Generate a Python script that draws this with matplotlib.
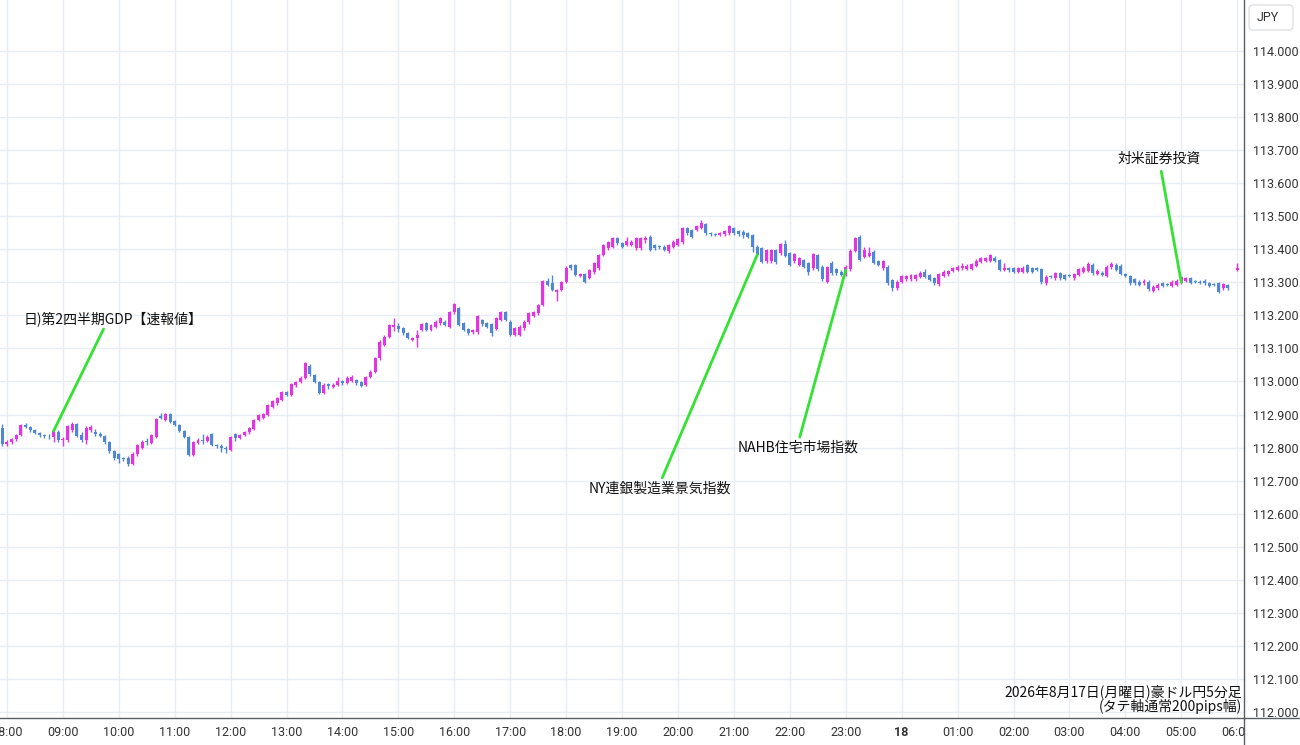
import numpy as np
import matplotlib
matplotlib.use('Agg')
import matplotlib.pyplot as plt
from matplotlib.patches import FancyBboxPatch
from matplotlib.lines import Line2D
from matplotlib.transforms import IdentityTransform, Bbox, TransformedBbox

nan = float('nan')

# ---------------- data: AUD/JPY 5-minute candles (07:55 -> 06:00) ----------------
opens = [
    112.860, 112.810, 112.818, 112.826, 112.838, 112.868, 112.862, 112.852, 112.844, 112.838,
    112.836, 112.832, 112.848, 112.822, 112.822, 112.852, 112.870, 112.838, 112.822, 112.852,
    112.848, 112.842, 112.834, 112.816, 112.790, 112.780, 112.768, 112.770, 112.750, 112.780,
    112.800, 112.820, 112.815, 112.833, 112.895, 112.883, 112.903, 112.880, 112.868, 112.850,
    112.833, 112.778, 112.815, 112.823, 112.820, 112.840, 112.808, 112.805, 112.800, 112.793,
    112.840, 112.830, 112.838, 112.846, 112.856, 112.883, 112.890, 112.900, 112.924, 112.934,
    112.944, 112.967, 112.960, 112.988, 112.998, 113.012, 113.048, 113.020, 112.997, 112.966,
    112.992, 112.984, 112.990, 113.000, 112.995, 113.002, 113.005, 112.997, 112.989, 113.015,
    113.030, 113.070, 113.110, 113.136, 113.165, 113.168, 113.161, 113.146, 113.126, 113.131,
    113.156, 113.176, 113.156, 113.166, 113.176, 113.181, 113.166, 113.209, 113.221, 113.176,
    113.159, 113.149, 113.149, 113.186, 113.176, 113.173, 113.159, 113.186, 113.209, 113.181,
    113.141, 113.141, 113.161, 113.179, 113.199, 113.206, 113.231, 113.304, 113.297, 113.272,
    113.277, 113.302, 113.352, 113.352, 113.319, 113.324, 113.314, 113.330, 113.342, 113.383,
    113.403, 113.408, 113.433, 113.418, 113.413, 113.413, 113.403, 113.403, 113.428, 113.438,
    113.413, 113.409, 113.408, 113.396, 113.408, 113.413, 113.421, 113.464, 113.458, 113.458,
    113.464, 113.476, 113.448, 113.445, 113.443, 113.445, 113.448, 113.464, 113.455, 113.453,
    113.448, 113.443, 113.408, 113.403, 113.363, 113.363, 113.398, 113.388, 113.416, 113.388,
    113.363, 113.353, 113.366, 113.358, 113.342, 113.383, 113.347, 113.302, 113.358, 113.339,
    113.332, 113.322, 113.339, 113.396, 113.438, 113.378, 113.380, 113.393, 113.363, 113.342,
    113.347, 113.307, 113.282, 113.302, 113.309, 113.309, 113.309, 113.317, 113.332, 113.322,
    113.312, 113.294, 113.320, 113.324, 113.334, 113.338, 113.342, 113.340, 113.340, 113.350,
    113.361, 113.365, 113.365, 113.375, 113.368, 113.337, 113.342, 113.342, 113.332, 113.332,
    113.352, 113.342, 113.342, 113.340, 113.297, 113.318, 113.312, 113.327, 113.322, 113.321,
    113.312, 113.322, 113.332, 113.335, 113.353, 113.325, 113.329, 113.320, 113.345, 113.353,
    113.350, 113.325, 113.319, 113.309, 113.302, 113.297, 113.302, 113.275, 113.282, 113.297,
    113.293, 113.289, 113.292, 113.299, 113.305, 113.312, 113.303, 113.302, 113.305, 113.297,
    113.293, 113.297, 113.282, 113.292, nan, 113.337,
]
highs = [
    112.870, 112.822, 112.830, 112.842, 112.872, 112.875, 112.866, 112.856, 112.848, 112.842,
    112.840, 112.856, 112.852, 112.832, 112.868, 112.876, 112.874, 112.848, 112.866, 112.868,
    112.855, 112.848, 112.838, 112.820, 112.794, 112.784, 112.772, 112.774, 112.786, 112.812,
    112.822, 112.828, 112.842, 112.890, 112.905, 112.906, 112.906, 112.884, 112.872, 112.854,
    112.836, 112.820, 112.828, 112.842, 112.838, 112.844, 112.812, 112.810, 112.804, 112.836,
    112.843, 112.842, 112.850, 112.862, 112.886, 112.902, 112.906, 112.932, 112.944, 112.952,
    112.970, 112.972, 112.996, 113.002, 113.016, 113.058, 113.052, 113.024, 113.000, 112.994,
    112.996, 112.994, 113.015, 113.004, 113.016, 113.020, 113.008, 113.000, 113.018, 113.034,
    113.074, 113.124, 113.140, 113.175, 113.191, 113.176, 113.165, 113.150, 113.135, 113.156,
    113.176, 113.180, 113.175, 113.185, 113.194, 113.185, 113.212, 113.236, 113.225, 113.180,
    113.162, 113.160, 113.202, 113.190, 113.180, 113.177, 113.195, 113.212, 113.213, 113.185,
    113.165, 113.170, 113.185, 113.210, 113.213, 113.235, 113.308, 113.312, 113.322, 113.280,
    113.304, 113.348, 113.356, 113.356, 113.328, 113.328, 113.341, 113.362, 113.387, 113.417,
    113.425, 113.437, 113.438, 113.422, 113.438, 113.427, 113.437, 113.437, 113.441, 113.442,
    113.417, 113.413, 113.412, 113.417, 113.427, 113.435, 113.468, 113.468, 113.462, 113.473,
    113.489, 113.480, 113.453, 113.449, 113.452, 113.459, 113.473, 113.468, 113.459, 113.457,
    113.452, 113.447, 113.412, 113.407, 113.402, 113.402, 113.402, 113.420, 113.428, 113.392,
    113.390, 113.377, 113.370, 113.362, 113.390, 113.387, 113.351, 113.349, 113.363, 113.343,
    113.336, 113.351, 113.400, 113.437, 113.442, 113.408, 113.408, 113.397, 113.367, 113.367,
    113.351, 113.311, 113.306, 113.323, 113.323, 113.326, 113.326, 113.333, 113.340, 113.326,
    113.316, 113.328, 113.336, 113.338, 113.346, 113.351, 113.358, 113.354, 113.359, 113.369,
    113.377, 113.377, 113.387, 113.379, 113.372, 113.358, 113.346, 113.346, 113.346, 113.348,
    113.356, 113.346, 113.346, 113.344, 113.321, 113.322, 113.331, 113.331, 113.326, 113.325,
    113.328, 113.344, 113.348, 113.360, 113.357, 113.339, 113.333, 113.351, 113.360, 113.357,
    113.354, 113.329, 113.323, 113.313, 113.306, 113.309, 113.306, 113.291, 113.297, 113.301,
    113.297, 113.306, 113.309, 113.319, 113.316, 113.316, 113.307, 113.306, 113.309, 113.301,
    113.297, 113.301, 113.299, 113.296, nan, 113.358,
]
lows = [
    112.805, 112.805, 112.812, 112.820, 112.835, 112.858, 112.848, 112.840, 112.832, 112.828,
    112.826, 112.818, 112.818, 112.805, 112.818, 112.848, 112.832, 112.818, 112.812, 112.848,
    112.836, 112.832, 112.812, 112.785, 112.762, 112.752, 112.760, 112.745, 112.746, 112.776,
    112.796, 112.808, 112.812, 112.830, 112.885, 112.880, 112.875, 112.864, 112.846, 112.829,
    112.775, 112.775, 112.810, 112.812, 112.816, 112.804, 112.800, 112.788, 112.783, 112.790,
    112.820, 112.826, 112.834, 112.842, 112.852, 112.880, 112.886, 112.896, 112.920, 112.930,
    112.940, 112.956, 112.956, 112.984, 112.994, 113.008, 113.018, 112.994, 112.962, 112.962,
    112.978, 112.980, 112.986, 112.990, 112.992, 112.998, 112.990, 112.982, 112.985, 113.012,
    113.026, 113.066, 113.106, 113.132, 113.153, 113.151, 113.142, 113.127, 113.122, 113.105,
    113.152, 113.152, 113.152, 113.162, 113.172, 113.167, 113.162, 113.205, 113.167, 113.152,
    113.142, 113.145, 113.145, 113.169, 113.162, 113.138, 113.155, 113.182, 113.182, 113.137,
    113.137, 113.137, 113.157, 113.175, 113.195, 113.202, 113.227, 113.288, 113.273, 113.244,
    113.273, 113.298, 113.338, 113.318, 113.315, 113.298, 113.310, 113.326, 113.338, 113.379,
    113.399, 113.404, 113.414, 113.404, 113.409, 113.409, 113.399, 113.399, 113.418, 113.394,
    113.399, 113.400, 113.394, 113.388, 113.404, 113.409, 113.417, 113.444, 113.434, 113.454,
    113.460, 113.444, 113.441, 113.439, 113.439, 113.441, 113.444, 113.444, 113.441, 113.433,
    113.433, 113.391, 113.379, 113.357, 113.359, 113.359, 113.356, 113.384, 113.376, 113.349,
    113.359, 113.349, 113.343, 113.322, 113.338, 113.335, 113.305, 113.298, 113.323, 113.323,
    113.318, 113.318, 113.335, 113.392, 113.364, 113.374, 113.378, 113.354, 113.349, 113.338,
    113.293, 113.274, 113.278, 113.298, 113.305, 113.305, 113.305, 113.313, 113.313, 113.303,
    113.293, 113.290, 113.316, 113.320, 113.330, 113.334, 113.338, 113.336, 113.336, 113.346,
    113.357, 113.361, 113.361, 113.361, 113.333, 113.335, 113.332, 113.328, 113.328, 113.328,
    113.328, 113.328, 113.334, 113.296, 113.292, 113.312, 113.308, 113.308, 113.306, 113.315,
    113.308, 113.318, 113.328, 113.331, 113.323, 113.321, 113.318, 113.316, 113.341, 113.333,
    113.321, 113.316, 113.293, 113.293, 113.288, 113.293, 113.275, 113.271, 113.278, 113.285,
    113.288, 113.285, 113.288, 113.295, 113.301, 113.295, 113.298, 113.295, 113.293, 113.285,
    113.288, 113.268, 113.278, 113.278, nan, 113.333,
]
closes = [
    112.810, 112.818, 112.826, 112.838, 112.868, 112.862, 112.852, 112.844, 112.838, 112.836,
    112.834, 112.850, 112.822, 112.826, 112.864, 112.870, 112.836, 112.824, 112.860, 112.862,
    112.842, 112.836, 112.818, 112.790, 112.770, 112.764, 112.766, 112.750, 112.782, 112.808,
    112.816, 112.816, 112.838, 112.888, 112.890, 112.903, 112.878, 112.868, 112.850, 112.833,
    112.778, 112.816, 112.823, 112.820, 112.833, 112.808, 112.805, 112.800, 112.797, 112.833,
    112.830, 112.838, 112.846, 112.858, 112.883, 112.898, 112.903, 112.929, 112.940, 112.949,
    112.967, 112.960, 112.992, 112.998, 113.012, 113.055, 113.022, 112.997, 112.964, 112.990,
    112.985, 112.990, 113.000, 112.995, 113.012, 113.015, 112.995, 112.987, 113.015, 113.030,
    113.070, 113.120, 113.136, 113.171, 113.170, 113.160, 113.146, 113.131, 113.131, 113.140,
    113.173, 113.156, 113.171, 113.181, 113.191, 113.171, 113.209, 113.233, 113.171, 113.156,
    113.146, 113.156, 113.199, 113.173, 113.166, 113.146, 113.191, 113.209, 113.186, 113.141,
    113.161, 113.166, 113.181, 113.206, 113.209, 113.231, 113.304, 113.292, 113.277, 113.277,
    113.300, 113.344, 113.342, 113.322, 113.324, 113.302, 113.337, 113.358, 113.383, 113.413,
    113.421, 113.433, 113.418, 113.408, 113.425, 113.423, 113.433, 113.433, 113.433, 113.398,
    113.403, 113.408, 113.398, 113.413, 113.423, 113.431, 113.464, 113.448, 113.438, 113.469,
    113.479, 113.448, 113.446, 113.443, 113.448, 113.455, 113.469, 113.448, 113.445, 113.443,
    113.438, 113.408, 113.383, 113.361, 113.398, 113.398, 113.360, 113.416, 113.380, 113.353,
    113.386, 113.373, 113.347, 113.332, 113.386, 113.339, 113.309, 113.345, 113.327, 113.327,
    113.322, 113.347, 113.396, 113.433, 113.368, 113.398, 113.388, 113.358, 113.353, 113.363,
    113.297, 113.282, 113.302, 113.319, 113.319, 113.322, 113.322, 113.329, 113.317, 113.307,
    113.297, 113.324, 113.332, 113.334, 113.342, 113.347, 113.350, 113.350, 113.355, 113.365,
    113.373, 113.373, 113.383, 113.365, 113.337, 113.343, 113.336, 113.332, 113.342, 113.344,
    113.332, 113.332, 113.338, 113.300, 113.317, 113.316, 113.327, 113.312, 113.310, 113.319,
    113.324, 113.340, 113.344, 113.355, 113.327, 113.335, 113.322, 113.347, 113.356, 113.337,
    113.325, 113.320, 113.297, 113.297, 113.292, 113.305, 113.279, 113.287, 113.292, 113.289,
    113.292, 113.302, 113.305, 113.315, 113.312, 113.299, 113.302, 113.299, 113.297, 113.289,
    113.292, 113.272, 113.295, 113.282, nan, 113.342,
]

# hour ticks: candle index of each full hour (08:00 is candle 1)
hour_index = [1, 13, 25, 37, 49, 61, 73, 85, 97, 109, 121, 133, 145, 157, 169, 181,
              193, 205, 217, 229, 241, 253, 265]
hour_labels = ['08:00', '09:00', '10:00', '11:00', '12:00', '13:00', '14:00', '15:00',
               '16:00', '17:00', '18:00', '19:00', '20:00', '21:00', '22:00', '23:00',
               '18', '01:00', '02:00', '03:00', '04:00', '05:00', '06:00']
price_ticks = [112.0, 112.1, 112.2, 112.3, 112.4, 112.5, 112.6, 112.7, 112.8, 112.9, 113.0,
               113.1, 113.2, 113.3, 113.4, 113.5, 113.6, 113.7, 113.8, 113.9, 114.0]

event_names = ['日)第2四半期GDP【速報値】', 'NY連銀製造業景気指数', 'NAHB住宅市場指数', '対米証券投資']
event_index = [11, 162, 181, 253]
event_price = [112.850, 113.383, 113.337, 113.300]

footnote_lines = ['2026年8月17日(月曜日)豪ドル円5分足', '(タテ軸通常200pips幅)']

# ---------------- style ----------------
UP = '#e632e6'
DOWN = '#4f86d8'
GREEN = '#33e233'
GRID = '#e8edf3'
AXIS = '#5a5d66'
TXT = '#333333'
W, H = 1300, 745

plt.rcParams['font.family'] = ['Roboto', 'Noto Sans CJK JP', 'DejaVu Sans']
CJK = ['Noto Sans CJK JP', 'DejaVu Sans']

fig = plt.figure(figsize=(W / 100, H / 100), dpi=100)
fig.patch.set_facecolor('white')
ax = fig.add_axes([0, 27 / H, 1244 / W, 718 / H])
ax.set_facecolor('white')

o = np.array(opens, dtype=float)
h = np.array(highs, dtype=float)
l = np.array(lows, dtype=float)
c = np.array(closes, dtype=float)
idx = np.arange(len(c))
ok = ~np.isnan(c)
col = np.where(c >= o, UP, DOWN)

ax.vlines(idx[ok], l[ok], h[ok], colors=col[ok], linewidth=1.0, zorder=3)
body_lo = np.minimum(o, c)
body_h = np.maximum(np.abs(c - o), 0.0025)
ax.bar(idx[ok], body_h[ok], bottom=body_lo[ok], width=0.64, color=col[ok],
       linewidth=0, zorder=4)

ax.set_xlim(-0.49, 266.46)
ax.set_ylim(111.982, 114.154)

ax.set_xticks(hour_index)
ax.set_xticklabels(hour_labels)
ax.set_yticks(price_ticks)
ax.set_yticklabels([f'{v:.3f}' for v in price_ticks])
ax.yaxis.tick_right()
ax.tick_params(axis='x', length=0, pad=6, labelsize=9, colors=TXT)
ax.tick_params(axis='y', length=0, pad=6.5, labelsize=9, colors=TXT)
for lab in ax.get_xticklabels():
    if lab.get_text() == '18':
        lab.set_fontweight('bold')
    lab.set_clip_box(TransformedBbox(Bbox([[0, -1], [1, 1]]), ax.transAxes))
    lab.set_clip_on(True)

ax.grid(True, color=GRID, linewidth=1.0, zorder=0)
ax.set_axisbelow(True)
for s in ['top', 'left']:
    ax.spines[s].set_visible(False)
for s in ['right', 'bottom']:
    ax.spines[s].set_color(AXIS)
    ax.spines[s].set_linewidth(1.0)

# axis lines continuing into the margins
fig.add_artist(Line2D([1244 / W, 1244 / W], [0, 27 / H], color=AXIS, lw=1.0,
                      transform=fig.transFigure))
fig.add_artist(Line2D([1244 / W, 1], [27 / H, 27 / H], color=AXIS, lw=1.0,
                      transform=fig.transFigure))

# currency box
fig.add_artist(FancyBboxPatch((1249, H - 30), 44, 25,
                              boxstyle='round,pad=0,rounding_size=4',
                              transform=IdentityTransform(), fc='white',
                              ec='#dfe2e8', lw=1.0))
fig.text(1257 / W, 1 - 17.5 / H, 'JPY', ha='left', va='center', fontsize=9, color=TXT)

# event annotations (line offsets / text offsets in pixels)
line_offsets = [(50, 102), (-95, -223), (-46, -167), (-20, 111)]
text_offsets = [(59, 112), (-97, -234), (-48, -178), (-22, 123)]
for name, i, p, lo, to in zip(event_names, event_index, event_price, line_offsets, text_offsets):
    ax.annotate('', xy=(i, p), xytext=lo, textcoords='offset pixels',
                arrowprops=dict(arrowstyle='-', color=GREEN, lw=2.0,
                                shrinkA=0, shrinkB=0), zorder=6)
    ax.annotate(name, xy=(i, p), xytext=to, textcoords='offset pixels',
                ha='center', va='center', fontsize=10, color='#111111',
                family=CJK, zorder=7)

# footnote
fig.text(1242 / W, 1 - 692 / H, footnote_lines[0], ha='right', va='center',
         fontsize=10, color='#111111', family=CJK)
fig.text(1242 / W, 1 - 707 / H, footnote_lines[1], ha='right', va='center',
         fontsize=10, color='#111111', family=CJK)

fig.savefig('out.png', dpi=100, facecolor='white')
